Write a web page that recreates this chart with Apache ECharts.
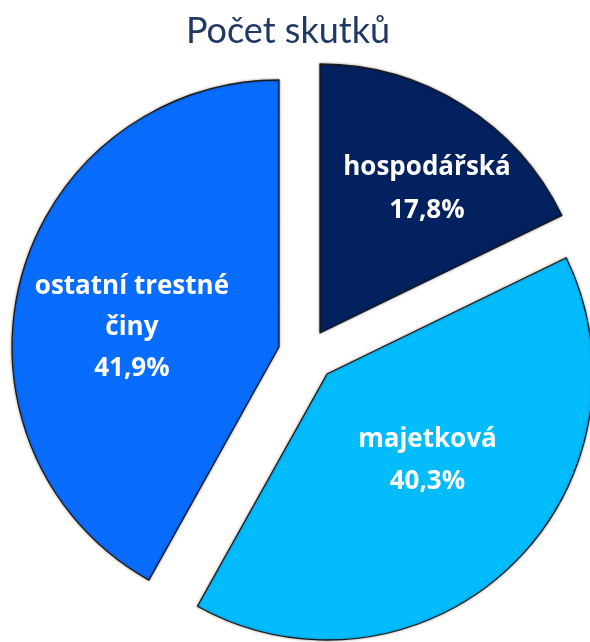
<!DOCTYPE html>
<html>
<head>
<meta charset="utf-8">
<script src="https://cdn.jsdelivr.net/npm/echarts@6/dist/echarts.min.js"></script>
<style>
html,body{margin:0;padding:0;background:#fff;}
#chart{width:590px;height:642px;}
</style>
</head>
<body>
<div id="chart"></div>
<script>
// ---- data ----
const titleText = 'Počet skutků';
const categories = ['hospodářská', 'majetková', 'ostatní trestné činy'];
const labelNames = ['hospodářská', 'majetková', 'ostatní trestné\nčiny'];
const values = [17.8, 40.3, 41.9];

// ---- styling (not data) ----
const colors = ['#03215F', '#03BCFE', '#086DFF'];
const sliceCenters = [[320, 333], [327, 374], [279, 347]];
const sliceRadii = [269, 266, 267];
const labelOffsets = [[34, -27], [7, -12], [-15, 15]];
const labelLineHeights = [43, 42, 41];

function fmt(v) { return v.toFixed(1).replace('.', ',') + '%'; }

const series = categories.map(function (cat, i) {
  return {
    type: 'pie',
    center: sliceCenters[i],
    radius: [0, sliceRadii[i]],
    startAngle: 90,
    clockwise: true,
    avoidLabelOverlap: false,
    silent: true,
    emphasis: { disabled: true },
    labelLine: { show: false },
    data: categories.map(function (c, j) {
      const own = (i === j);
      return {
        name: c,
        value: values[j],
        itemStyle: own ? {
          color: colors[j],
          borderColor: '#1a1a1a',
          borderWidth: 1.3,
          shadowColor: 'rgba(0,0,0,0.35)',
          shadowBlur: 3
        } : { color: 'rgba(0,0,0,0)', borderWidth: 0 },
        label: own ? {
          show: true,
          position: 'inside',
          offset: labelOffsets[j],
          formatter: function (p) { return labelNames[p.dataIndex] + '\n' + fmt(p.value); },
          color: '#ffffff',
          fontFamily: 'Open Sans',
          fontWeight: 'bold',
          fontSize: 26,
          lineHeight: labelLineHeights[j],
          align: 'center'
        } : { show: false }
      };
    })
  };
});

const chart = echarts.init(document.getElementById('chart'), null, { renderer: 'canvas' });
chart.setOption({
  animation: false,
  backgroundColor: '#ffffff',
  title: {
    text: titleText,
    left: 283,
    textAlign: 'center',
    top: 8,
    textStyle: {
      color: '#1F3864',
      fontFamily: 'Lato',
      fontWeight: 'normal',
      fontSize: 36
    }
  },
  series: series
});
</script>
</body>
</html>
